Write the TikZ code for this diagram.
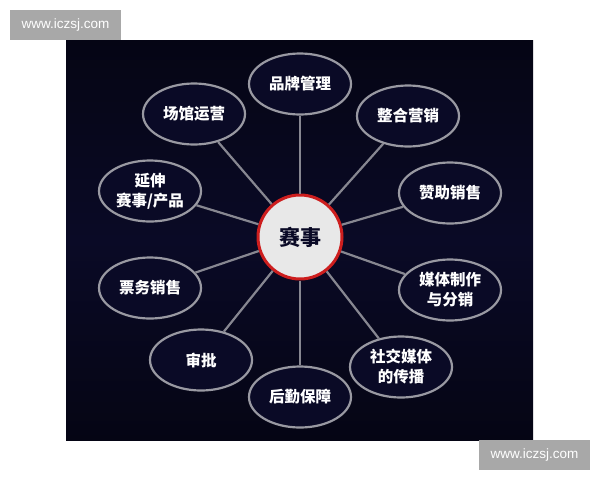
\documentclass[tikz,border=0pt]{standalone}
\usepackage{fontspec}
\newfontfamily\cjk{Noto Sans CJK SC}
\setsansfont{Liberation Sans}
\usetikzlibrary{shapes.geometric}
\definecolor{panel}{RGB}{10,10,38}
\definecolor{paneltop}{RGB}{5,5,20}
\definecolor{spoke}{RGB}{135,135,145}
\definecolor{rim}{RGB}{205,30,30}
\definecolor{hubfill}{RGB}{232,232,232}
\definecolor{wmgray}{RGB}{168,168,168}
\tikzset{x=1pt, y=-1pt, % Pixel coordinates, origin at the top left corner
topic/.style={ % Sets the properties for each outer ellipse
ellipse, draw=spoke!85!white, line width=2.2pt, fill=panel,
minimum width=102pt, minimum height=61pt, inner sep=0pt,
text=white, align=center, font=\cjk\bfseries\fontsize{15.5}{20}\selectfont},
hub/.style={ % The centre circle
circle, draw=rim, line width=3pt, fill=hubfill, minimum size=84pt,
text=panel, font=\cjk\bfseries\fontsize{21}{24}\selectfont},
watermark/.style={ % Grey site labels
fill=wmgray, text=white, minimum width=111pt, minimum height=30pt,
inner sep=0pt, font=\sffamily\fontsize{13.5}{15}\selectfont},
every edge/.style={ % Sets the properties for each spoke
draw, spoke, line width=2.2pt}}
\begin{document}
\begin{tikzpicture}

    \useasboundingbox[fill=white] (0,0) rectangle (600,480);
    \fill[top color=paneltop, bottom color=paneltop, middle color=panel] (66,40) rectangle (533,440);

    \node[watermark] (wmtop) at (65.5,25) {www.iczsj.com};
    \node[watermark] (wmbot) at (534.5,455) {www.iczsj.com};

    \node[hub] (event) at (300,237) {赛事};

    \node[topic] (brand) at (300,84) {品牌管理};
    \node[topic] (venue) at (194,114) {场馆运营};
    \node[topic] (market) at (408,116) {整合营销};
    \node[topic] (sponsor) at (450,193) {赞助销售};
    \node[topic] (extend) at (150,191) {延伸\\赛事/产品};
    \node[topic] (ticket) at (150,288) {票务销售};
    \node[topic] (approve) at (201,360) {审批};
    \node[topic] (logist) at (300,397) {后勤保障};
    \node[topic] (social) at (401,367) {社交媒体\\的传播};
    \node[topic] (media) at (450,290) {媒体制作\\与分销};

    \draw (event) edge (brand) edge (venue) edge (market) edge (sponsor) edge (extend);
    \draw (event) edge (ticket) edge (approve) edge (logist) edge (social) edge (media);

\end{tikzpicture}
\end{document}
